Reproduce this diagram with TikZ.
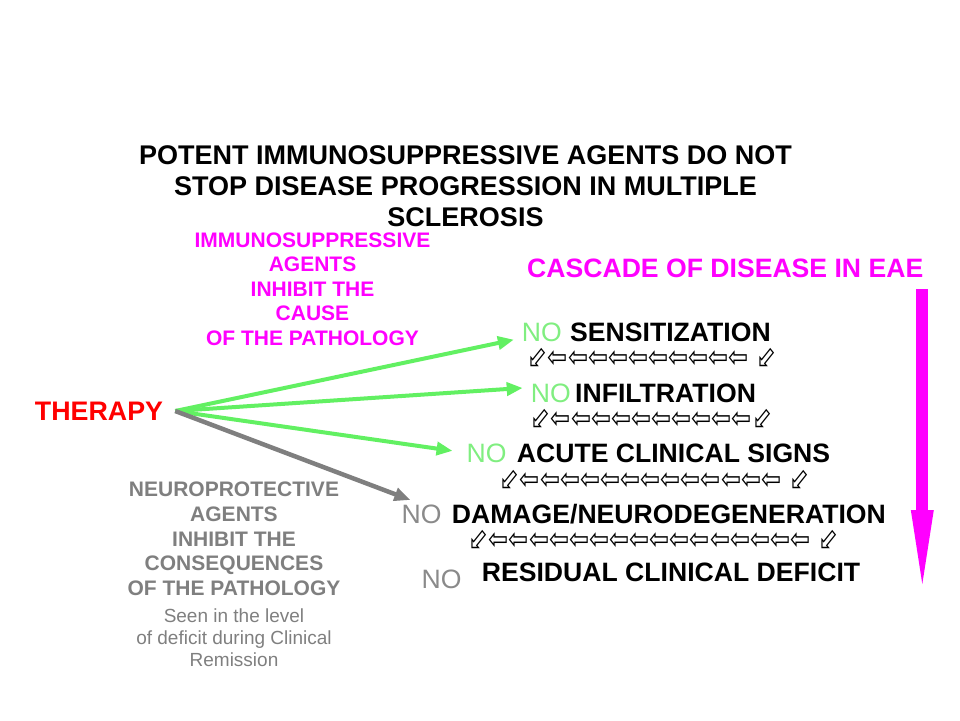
\documentclass[tikz,border=0pt]{standalone}
\usepackage{fontspec}
\setmainfont{Liberation Sans}
\newfontfamily\arrowfont[FakeStretch=0.8]{DejaVu Sans}
\usetikzlibrary{arrows.meta}
\definecolor{cascadeMagenta}{HTML}{FF00FF}
\definecolor{therapyRed}{HTML}{FF0000}
\definecolor{inhibitGreen}{HTML}{62F062}
\definecolor{noGreen}{HTML}{80EE80}
\definecolor{protectGray}{HTML}{7F7F7F}
\definecolor{noGray}{HTML}{8A8A8A}

\begin{document}
\begin{tikzpicture}[x=1pt,y=-1pt,
  headText/.style={font=\fontsize{27}{31}\selectfont\bfseries,align=center,inner sep=0pt},
  inhibitText/.style={font=\fontsize{21}{24.5}\selectfont\bfseries,text=cascadeMagenta,align=center,inner sep=0pt},
  protectText/.style={font=\fontsize{21}{24.8}\selectfont\bfseries,text=protectGray,align=center,inner sep=0pt},
  remissionText/.style={font=\fontsize{19}{22}\selectfont,text=protectGray,align=center,inner sep=0pt},
  stepLabel/.style={font=\fontsize{26.6}{30}\selectfont\bfseries,anchor=base west,inner sep=0pt},
  noGreenLbl/.style={font=\fontsize{26.6}{30}\selectfont,text=noGreen,anchor=base east,inner sep=0pt},
  noGrayLbl/.style={font=\fontsize{26.6}{30}\selectfont,text=noGray,anchor=base east,inner sep=0pt},
  arrowRow/.style={font=\arrowfont\fontsize{30}{34}\selectfont,inner sep=0pt},
  inhibitArrow/.style={inhibitGreen,line width=4pt,-{Triangle[length=16pt,width=13pt]},shorten >=8pt},
  protectArrow/.style={protectGray,line width=4.5pt,-{Triangle[length=16pt,width=13pt]},shorten >=12pt}]
\useasboundingbox (0,0) rectangle (960,720);

% Heading.
\node[headText,anchor=north] (heading) at (465.5,145.2)
  {POTENT IMMUNOSUPPRESSIVE AGENTS DO NOT\\STOP DISEASE PROGRESSION IN MULTIPLE\\SCLEROSIS};

% Notes on the two kinds of agents.
\node[inhibitText,anchor=north] (inhibitNote) at (312.5,232.5)
  {IMMUNOSUPPRESSIVE\\AGENTS\\INHIBIT THE\\CAUSE\\OF THE PATHOLOGY};
\node[protectText,anchor=north] (protectNote) at (234,481.7)
  {NEUROPROTECTIVE\\AGENTS\\INHIBIT THE\\CONSEQUENCES\\ OF THE PATHOLOGY};
\node[remissionText,anchor=north] (remissionNote) at (234,608.5)
  {Seen in the level\\of deficit during Clinical\\Remission};

\node[font=\fontsize{26.8}{30}\selectfont\bfseries,text=therapyRed,inner xsep=12pt,inner ysep=0pt]
  (therapy) at (99,411) {THERAPY};

% Cascade, top to bottom: a thick shaft with a long head.
\node[font=\fontsize{26.6}{30}\selectfont\bfseries,text=cascadeMagenta,anchor=base west,inner sep=0pt]
  (cascade) at (527,277.5) {CASCADE OF DISEASE IN EAE};
\coordinate (cascadeTop) at (922.3,289);
\coordinate (cascadeNeck) at (922.3,510);
\coordinate (cascadeEnd) at (922.3,584);
\fill[cascadeMagenta] ([xshift=-6pt]cascadeTop) rectangle ([xshift=6pt,yshift=-1pt]cascadeNeck);
\fill[cascadeMagenta] ([xshift=-11.5pt]cascadeNeck) -- ([xshift=11.5pt]cascadeNeck) -- (cascadeEnd) -- cycle;

\node[stepLabel] (sens) at (570,341) {SENSITIZATION};
\node[noGreenLbl] (noSens) at ([xshift=-8pt]sens.base west) {NO};
\node[arrowRow] (rowA) at (652.3,358) {⬃⇦⇦⇦⇦⇦⇦⇦⇦⇦⇦ ⬃};

\node[stepLabel] (infil) at (575,402) {INFILTRATION};
\node[noGreenLbl] (noInfil) at ([xshift=-4pt]infil.base west) {NO};
\node[arrowRow] (rowB) at (651.5,419) {⬃⇦⇦⇦⇦⇦⇦⇦⇦⇦⇦⬃};

\node[stepLabel] (acute) at (516.7,462) {ACUTE CLINICAL SIGNS};
\node[noGreenLbl] (noAcute) at ([xshift=-10pt]acute.base west) {NO};
\node[arrowRow] (rowC) at (654.5,480) {⬃⇦⇦⇦⇦⇦⇦⇦⇦⇦⇦⇦⇦⇦ ⬃};

\node[stepLabel] (damage) at (451.7,523) {DAMAGE/NEURODEGENERATION};
\node[noGrayLbl] (noDamage) at ([xshift=-10pt]damage.base west) {NO};
\node[arrowRow] (rowD) at (653.5,540) {⬃⇦⇦⇦⇦⇦⇦⇦⇦⇦⇦⇦⇦⇦⇦⇦⇦ ⬃};

\node[stepLabel] (resid) at (481.7,581) {RESIDUAL CLINICAL DEFICIT};
\node[noGrayLbl] (noResid) at ([xshift=-20pt,yshift=-7pt]resid.base west) {NO};

% Therapy acts on the early steps (green) and on damage (gray).
\draw[inhibitArrow] (therapy.east) -- (noSens.197);
\draw[inhibitArrow] (therapy.east) -- (noInfil.165);
\draw[inhibitArrow,shorten >=14pt] (therapy.east) -- (noAcute.west);
\draw[protectArrow] (therapy.east) -- (noDamage.north);

\end{tikzpicture}
\end{document}
